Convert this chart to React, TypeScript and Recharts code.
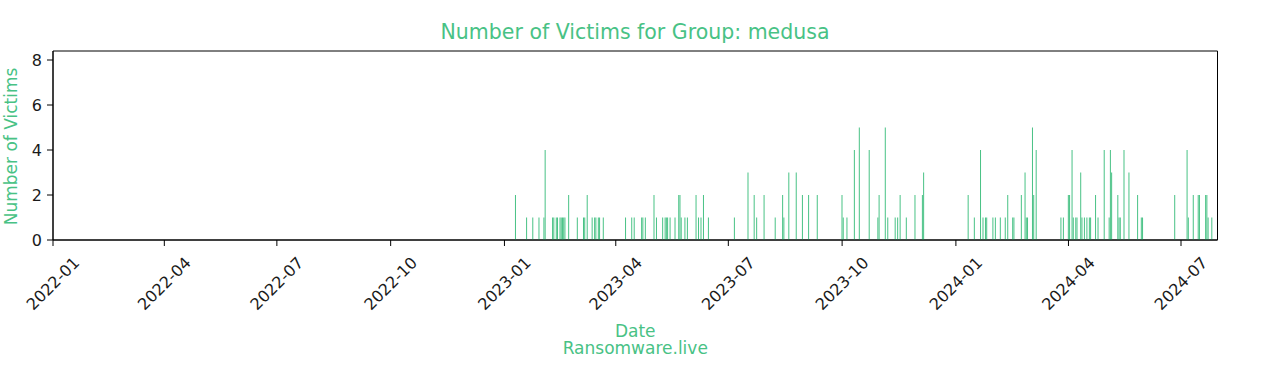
import { BarChart, Bar, XAxis, YAxis, ReferenceArea } from 'recharts';

// victims per day
const dates2023 = [
  '2023-01-10', '2023-01-19', '2023-01-24', '2023-01-29', '2023-02-02', '2023-02-03', '2023-02-09',
  '2023-02-10', '2023-02-12', '2023-02-13', '2023-02-15', '2023-02-16', '2023-02-17', '2023-02-18',
  '2023-02-19', '2023-02-22', '2023-03-01', '2023-03-06', '2023-03-07', '2023-03-09', '2023-03-13',
  '2023-03-15', '2023-03-16', '2023-03-18', '2023-03-19', '2023-03-22', '2023-04-09', '2023-04-14',
  '2023-04-16', '2023-04-22', '2023-04-23', '2023-04-25', '2023-05-02', '2023-05-04', '2023-05-09',
  '2023-05-11', '2023-05-12', '2023-05-13', '2023-05-15', '2023-05-19', '2023-05-22', '2023-05-23',
  '2023-05-24', '2023-05-27', '2023-05-29', '2023-06-05', '2023-06-07', '2023-06-09', '2023-06-11',
  '2023-06-15', '2023-07-06', '2023-07-17', '2023-07-22', '2023-07-24', '2023-07-30', '2023-08-08',
  '2023-08-14', '2023-08-15', '2023-08-19', '2023-08-25', '2023-08-30', '2023-09-04', '2023-09-11',
  '2023-10-01', '2023-10-02', '2023-10-05', '2023-10-11', '2023-10-15', '2023-10-23', '2023-10-30',
  '2023-10-31', '2023-11-05', '2023-11-07', '2023-11-13', '2023-11-15', '2023-11-17', '2023-11-22',
  '2023-11-29', '2023-12-05', '2023-12-06',
];
const counts2023 = [
  2, 1, 1, 1, 1, 4, 1,
  1, 1, 1, 1, 1, 1, 1,
  1, 2, 1, 1, 1, 2, 1,
  1, 1, 1, 1, 1, 1, 1,
  1, 1, 1, 1, 2, 1, 1,
  1, 1, 1, 1, 1, 2, 2,
  1, 1, 1, 2, 1, 1, 2,
  1, 1, 3, 2, 1, 2, 1,
  2, 1, 3, 3, 2, 2, 2,
  2, 1, 1, 4, 5, 4, 1,
  2, 5, 1, 1, 1, 2, 1,
  2, 2, 3,
];

const dates2024 = [
  '2024-01-11', '2024-01-16', '2024-01-21', '2024-01-23', '2024-01-25', '2024-01-26', '2024-01-31',
  '2024-02-02', '2024-02-06', '2024-02-10', '2024-02-12', '2024-02-16', '2024-02-17', '2024-02-23',
  '2024-02-26', '2024-02-27', '2024-02-28', '2024-03-03', '2024-03-04', '2024-03-06', '2024-03-26',
  '2024-03-28', '2024-04-01', '2024-04-02', '2024-04-04', '2024-04-05', '2024-04-07', '2024-04-08',
  '2024-04-11', '2024-04-12', '2024-04-14', '2024-04-16', '2024-04-18', '2024-04-19', '2024-04-23',
  '2024-04-25', '2024-04-30', '2024-05-04', '2024-05-05', '2024-05-06', '2024-05-11', '2024-05-12',
  '2024-05-13', '2024-05-16', '2024-05-20', '2024-05-27', '2024-05-30', '2024-05-31', '2024-06-26',
  '2024-07-06', '2024-07-07', '2024-07-11', '2024-07-15', '2024-07-16', '2024-07-21', '2024-07-22',
  '2024-07-23', '2024-07-26',
];
const counts2024 = [
  2, 1, 4, 1, 1, 1, 1,
  1, 1, 1, 2, 1, 1, 2,
  3, 1, 1, 5, 2, 4, 1,
  1, 2, 2, 4, 1, 1, 1,
  3, 1, 1, 1, 1, 1, 2,
  1, 4, 1, 4, 3, 2, 1,
  1, 4, 3, 2, 1, 1, 2,
  4, 1, 2, 2, 2, 2, 2,
  1, 1,
];

const tickLabels = [
  '2022-01', '2022-04', '2022-07', '2022-10', '2023-01', '2023-04',
  '2023-07', '2023-10', '2024-01', '2024-04', '2024-07',
];
const yTicks = [0, 2, 4, 6, 8];

const GREEN = '#48c285';
const FONT = '"DejaVu Sans", sans-serif';

const X_MIN = Date.parse('2022-01-01');
const X_MAX = Date.parse('2024-07-30T12:00:00Z');
const Y_MAX = 8.4;

const rows = [...dates2023, ...dates2024].map((d, i) => ({
  t: Date.parse(d),
  victims: [...counts2023, ...counts2024][i],
}));
const xTicks = tickLabels.map((m) => Date.parse(`${m}-01`));

function fmtMonth(v: number) {
  const d = new Date(v);
  return `${d.getUTCFullYear()}-${String(d.getUTCMonth() + 1).padStart(2, '0')}`;
}

const DateTick = ({ x, y, payload }: any) => {
  const cy = y + 37.5;
  return (
    <text
      x={x}
      y={cy}
      textAnchor="middle"
      dominantBaseline="central"
      transform={`rotate(-45, ${x}, ${cy})`}
      fontSize={16}
      fontFamily={FONT}
      fill="#1a1a1a"
    >
      {fmtMonth(payload.value)}
    </text>
  );
};

const XLabel = ({ viewBox }: any) => {
  const cx = viewBox.x + viewBox.width / 2;
  return (
    <g fontFamily={FONT} fontSize={17} fill={GREEN} textAnchor="middle">
      <text x={cx} y={viewBox.y + 96.5}>Date</text>
      <text x={cx} y={viewBox.y + 114.3}>Ransomware.live</text>
    </g>
  );
};

const YLabel = ({ viewBox }: any) => {
  const cy = viewBox.y + viewBox.height / 2 + 1;
  return (
    <text
      x={17}
      y={cy}
      textAnchor="middle"
      transform={`rotate(-90, 17, ${cy})`}
      fontFamily={FONT}
      fontSize={17}
      fill={GREEN}
    >
      Number of Victims
    </text>
  );
};

export default function App() {
  return (
    <div style={{ position: 'relative', width: 1267, height: 366, background: '#fff' }}>
      <style>{'body{margin:0}'}</style>
      <div
        style={{
          position: 'absolute',
          left: 0,
          top: 20,
          width: 1270,
          textAlign: 'center',
          fontFamily: FONT,
          fontSize: 20.5,
          lineHeight: '24px',
          color: GREEN,
        }}
      >
        Number of Victims for Group: medusa
      </div>
      <BarChart
        width={1267}
        height={366}
        data={rows}
        margin={{ top: 51, right: 49.5, bottom: 0, left: 0 }}
        barCategoryGap={0}
      >
        <XAxis
          dataKey="t"
          type="number"
          domain={[X_MIN, X_MAX]}
          allowDataOverflow
          ticks={xTicks}
          interval={0}
          height={126}
          tickSize={6}
          tickMargin={0}
          stroke="#000"
          tick={<DateTick />}
          label={{ content: <XLabel /> }}
        />
        <YAxis
          type="number"
          domain={[0, Y_MAX]}
          allowDataOverflow
          ticks={yTicks}
          width={53}
          tickSize={6}
          tickMargin={5}
          stroke="#000"
          tick={{ fill: '#1a1a1a', fontSize: 16, fontFamily: FONT }}
          label={{ content: <YLabel /> }}
        />
        <Bar dataKey="victims" fill={GREEN} barSize={1} isAnimationActive={false} />
        <ReferenceArea
          x1={X_MIN}
          x2={X_MAX}
          y1={0}
          y2={Y_MAX}
          fill="none"
          stroke="#000"
          strokeWidth={1}
          fillOpacity={0}
        />
      </BarChart>
    </div>
  );
}
